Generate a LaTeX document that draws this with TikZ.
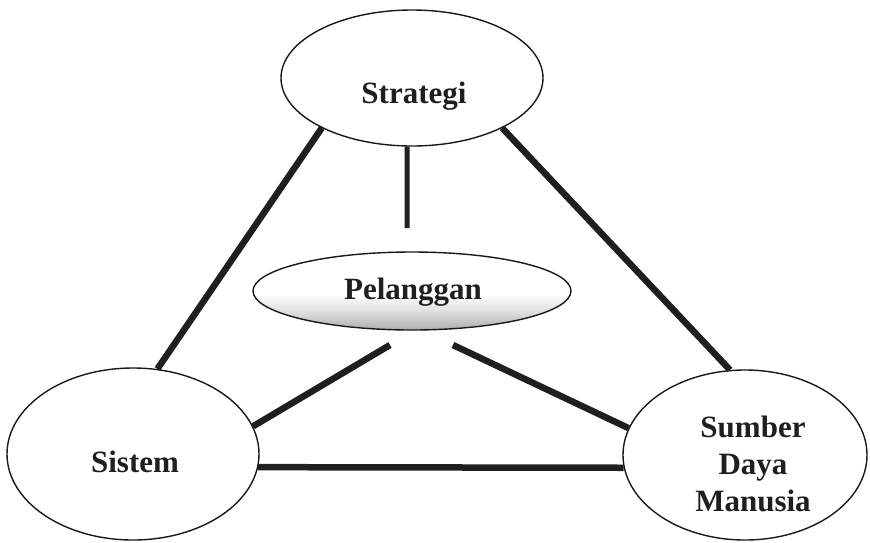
\documentclass[tikz,border=0pt]{standalone}
\usepackage{fontspec}
\setmainfont{Liberation Serif}
\usetikzlibrary{shapes.geometric}
\pgfdeclareverticalshading{pelshade}{100bp}{color(0bp)=(black!32); color(25bp)=(black!32); color(36bp)=(black!14); color(48bp)=(white); color(100bp)=(white)}
\begin{document}
\begin{tikzpicture}[x=1pt,y=-1pt,
  oval/.style={ellipse,draw=black!90,line width=1.4pt,inner sep=0pt},
  lbl/.style={font=\fontsize{31}{37}\selectfont\bfseries,align=center,text=black!88},
  link/.style={line width=6.5pt,draw=black!88}]
\useasboundingbox[fill=white] (0,0) rectangle (870,542);
% ovals
\node[oval,minimum width=262pt,minimum height=136pt] (str) at (412,78) {};
\node[oval,minimum width=318pt,minimum height=78pt,shading=pelshade] (pel) at (412,291) {};
\node[oval,minimum width=252pt,minimum height=172pt] (sis) at (133,454) {};
\node[oval,minimum width=244pt,minimum height=170pt] (sdm) at (745,455) {};
% labels
\node[lbl] (strT) at (414,96) {Strategi};
\node[lbl] (pelT) at (413,292) {Pelanggan};
\node[lbl] (sisT) at (135,462) {Sistem};
\node[lbl] (sdmT) at (753,464) {Sumber\\Daya\\Manusia};
% free ends
\coordinate (pv) at (407,228);
\coordinate (pl) at (390,345);
\coordinate (pr) at (453,345);
% connectors
\draw[link] (str.209) -- (sis.74);
\draw[link] (str.331) -- (sdm.100);
\draw[link,line width=5pt] (str.266) -- (pv);
\draw[link] (pl) -- (sis.13);
\draw[link] (pr) -- (sdm.167);
\draw[link] (sis.-6) -- (sdm.186);
\end{tikzpicture}
\end{document}
